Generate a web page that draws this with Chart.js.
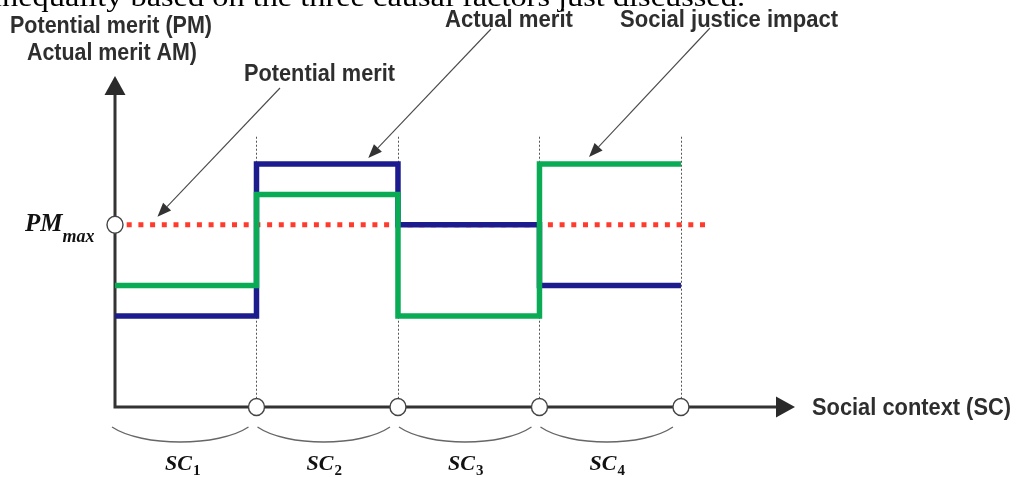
<!DOCTYPE html>
<html><head><meta charset="utf-8">
<script src="https://cdn.jsdelivr.net/npm/chart.js@4/dist/chart.umd.min.js"></script>
<style>html,body{margin:0;padding:0;background:#fff;overflow:hidden}canvas{display:block}</style>
</head><body>
<canvas id="c" width="1018" height="477"></canvas>
<script>
// ---- data ----
const contextLabels = ['SC', 'SC', 'SC', 'SC'];
const contextSubs = ['1', '2', '3', '4'];
const boundaries = [0, 1, 2, 3, 4];
const actualMerit = [3, 8, 6, 4];          // Actual merit level per social context
const socialJustice = [4, 7, 3, 8];        // Social justice impact level per social context
const pmMax = 6;                           // Potential merit (PM max)
const pmExtent = [0, 4.2];                 // x-range of the dotted PM max line
const xAxisMax = 4.806;
const yAxisMax = 10.9;
const guideTop = 8.9;

const BLUE = '#1c1c8f', GREEN = '#0aab55', RED = '#ff3b2e', INK = '#2e2e2e';

function stepPoints(levels) {
  const pts = levels.map((v, i) => ({ x: boundaries[i], y: v }));
  pts.push({ x: boundaries[levels.length], y: levels[levels.length - 1] });
  return pts;
}

function fitText(ctx, text, x, base, width, font, color) {
  ctx.save();
  ctx.font = font;
  ctx.fillStyle = color || INK;
  ctx.textBaseline = 'alphabetic';
  ctx.textAlign = 'left';
  const w = ctx.measureText(text).width;
  ctx.translate(x, base);
  ctx.scale(width / w, 1);
  ctx.fillText(text, 0, 0);
  ctx.restore();
}

function arrowLine(ctx, x1, y1, x2, y2) {
  const ang = Math.atan2(y2 - y1, x2 - x1);
  const L = 14, H = 5.5;
  const bx = x2 - L * Math.cos(ang), by = y2 - L * Math.sin(ang);
  ctx.save();
  ctx.strokeStyle = '#4a4a4a'; ctx.lineWidth = 1.1;
  ctx.beginPath(); ctx.moveTo(x1, y1); ctx.lineTo(bx, by); ctx.stroke();
  ctx.fillStyle = '#333';
  ctx.beginPath();
  ctx.moveTo(x2, y2);
  ctx.lineTo(bx + H * Math.sin(ang), by - H * Math.cos(ang));
  ctx.lineTo(bx - H * Math.sin(ang), by + H * Math.cos(ang));
  ctx.closePath(); ctx.fill();
  ctx.restore();
}

function circle(ctx, cx, cy) {
  ctx.save();
  ctx.beginPath(); ctx.ellipse(cx, cy, 8, 8.5, 0, 0, Math.PI * 2);
  ctx.fillStyle = '#fff'; ctx.fill();
  ctx.strokeStyle = '#444'; ctx.lineWidth = 1.4; ctx.stroke();
  ctx.restore();
}

const decor = {
  id: 'decor',
  beforeDatasetsDraw(chart) {
    const { ctx, scales: { x, y }, chartArea } = chart;
    const x0 = x.getPixelForValue(0), y0 = y.getPixelForValue(0);
    // dotted vertical guides
    ctx.save();
    ctx.strokeStyle = '#555'; ctx.lineWidth = 1; ctx.setLineDash([2, 2]);
    boundaries.slice(1).forEach(b => {
      const px = Math.round(x.getPixelForValue(b)) + 0.5;
      ctx.beginPath(); ctx.moveTo(px, y.getPixelForValue(guideTop)); ctx.lineTo(px, y0); ctx.stroke();
    });
    ctx.restore();
    // axes with arrows
    const tipY = chartArea.top, tipX = chartArea.right, AL = 19, AH = 10.5;
    ctx.save();
    ctx.strokeStyle = '#333'; ctx.lineWidth = 3; ctx.lineJoin = 'miter';
    ctx.beginPath(); ctx.moveTo(x0, tipY + AL); ctx.lineTo(x0, y0); ctx.lineTo(tipX - AL, y0); ctx.stroke();
    ctx.fillStyle = '#2a2a2a';
    ctx.beginPath(); ctx.moveTo(x0, tipY); ctx.lineTo(x0 - AH, tipY + AL); ctx.lineTo(x0 + AH, tipY + AL); ctx.closePath(); ctx.fill();
    ctx.beginPath(); ctx.moveTo(tipX, y0); ctx.lineTo(tipX - AL, y0 - AH); ctx.lineTo(tipX - AL, y0 + AH); ctx.closePath(); ctx.fill();
    ctx.restore();
  },
  afterDatasetsDraw(chart) {
    const { ctx, scales: { x, y } } = chart;
    const x0 = x.getPixelForValue(0), y0 = y.getPixelForValue(0);
    // circles
    boundaries.slice(1).forEach(b => circle(ctx, x.getPixelForValue(b), y0));
    circle(ctx, x0, y.getPixelForValue(pmMax));

    // braces and SC labels
    ctx.save();
    ctx.strokeStyle = '#666'; ctx.lineWidth = 1.3;
    for (let i = 0; i < contextLabels.length; i++) {
      const a = x.getPixelForValue(boundaries[i]) + (i === 0 ? -3 : 1);
      const b = x.getPixelForValue(boundaries[i + 1]) - 8;
      const top = y0 + 20, bot = y0 + 40;
      const w = b - a;
      ctx.beginPath();
      ctx.moveTo(a, top);
      ctx.bezierCurveTo(a + w * 0.22, bot, b - w * 0.22, bot, b, top);
      ctx.stroke();
      const mid = (x.getPixelForValue(boundaries[i]) + x.getPixelForValue(boundaries[i + 1])) / 2;
      ctx.fillStyle = '#111';
      ctx.font = 'bold italic 22px "Liberation Serif"';
      const sw = ctx.measureText(contextLabels[i]).width;
      ctx.font = 'bold 15px "Liberation Serif"';
      const dw = ctx.measureText(contextSubs[i]).width;
      const sx = mid - 3 - (sw + dw + 1) / 2;
      ctx.font = 'bold italic 22px "Liberation Serif"';
      ctx.fillText(contextLabels[i], sx, y0 + 63);
      ctx.font = 'bold 15px "Liberation Serif"';
      ctx.fillText(contextSubs[i], sx + sw + 1, y0 + 68);
    }
    ctx.restore();

    // PM max label
    ctx.save();
    ctx.fillStyle = '#111';
    ctx.font = 'bold italic 25px "Liberation Serif"';
    const pmY = y.getPixelForValue(pmMax);
    ctx.fillText('PM', 25, pmY + 6);
    const pw = ctx.measureText('PM').width;
    ctx.font = 'bold italic 18px "Liberation Serif"';
    ctx.fillText('max', 25 + pw, pmY + 17);
    ctx.restore();

    // annotations
    const F = 'bold 23px "Liberation Sans"';
    fitText(ctx, 'Potential merit (PM)', 10, 33, 202, F);
    fitText(ctx, 'Actual merit AM)', 27, 60, 170, F);
    fitText(ctx, 'Potential merit', 244, 81, 151, F);
    fitText(ctx, 'Actual merit', 445, 27, 128, F);
    fitText(ctx, 'Social justice impact', 620, 27, 218, F);
    fitText(ctx, 'Social context (SC)', 812, 415, 199, F);

    arrowLine(ctx, 280, 88, x.getPixelForValue(0.3), y.getPixelForValue(pmMax) - 8);
    arrowLine(ctx, 491, 29, x.getPixelForValue(1.79), y.getPixelForValue(actualMerit[1]) - 6);
    arrowLine(ctx, 710, 28, x.getPixelForValue(3.35), y.getPixelForValue(socialJustice[3]) - 7);

    // cut-off text line at the very top (from the source page)
    fitText(ctx, 'inequality based on the three causal factors just discussed.', -7, 6, 752, '27px "Liberation Serif"', '#000');
  }
};

new Chart(document.getElementById('c'), {
  type: 'line',
  data: {
    datasets: [
      { label: 'Social justice impact', data: stepPoints(socialJustice), stepped: 'before',
        borderColor: GREEN, borderWidth: 5.5, pointRadius: 0, fill: false, clip: false,
        borderCapStyle: 'butt', borderJoinStyle: 'miter' },
      { label: 'Actual merit', data: stepPoints(actualMerit), stepped: 'before',
        borderColor: BLUE, borderWidth: 5.5, pointRadius: 0, fill: false, clip: false,
        borderCapStyle: 'butt', borderJoinStyle: 'miter' },
      { label: 'Potential merit', data: pmExtent.map(v => ({ x: v, y: pmMax })),
        borderColor: RED, borderWidth: 5, borderDash: [5, 6.7], pointRadius: 0, fill: false, clip: false,
        borderCapStyle: 'butt' }
    ]
  },
  options: {
    responsive: false, animation: false, devicePixelRatio: 1,
    layout: { padding: { left: 115, right: 223, top: 76, bottom: 70 } },
    plugins: { legend: { display: false }, tooltip: { enabled: false } },
    scales: {
      x: { type: 'linear', min: 0, max: xAxisMax, display: false },
      y: { type: 'linear', min: 0, max: yAxisMax, display: false }
    },
    elements: { point: { radius: 0 }, line: { tension: 0 } }
  },
  plugins: [decor]
});
</script>
</body></html>
